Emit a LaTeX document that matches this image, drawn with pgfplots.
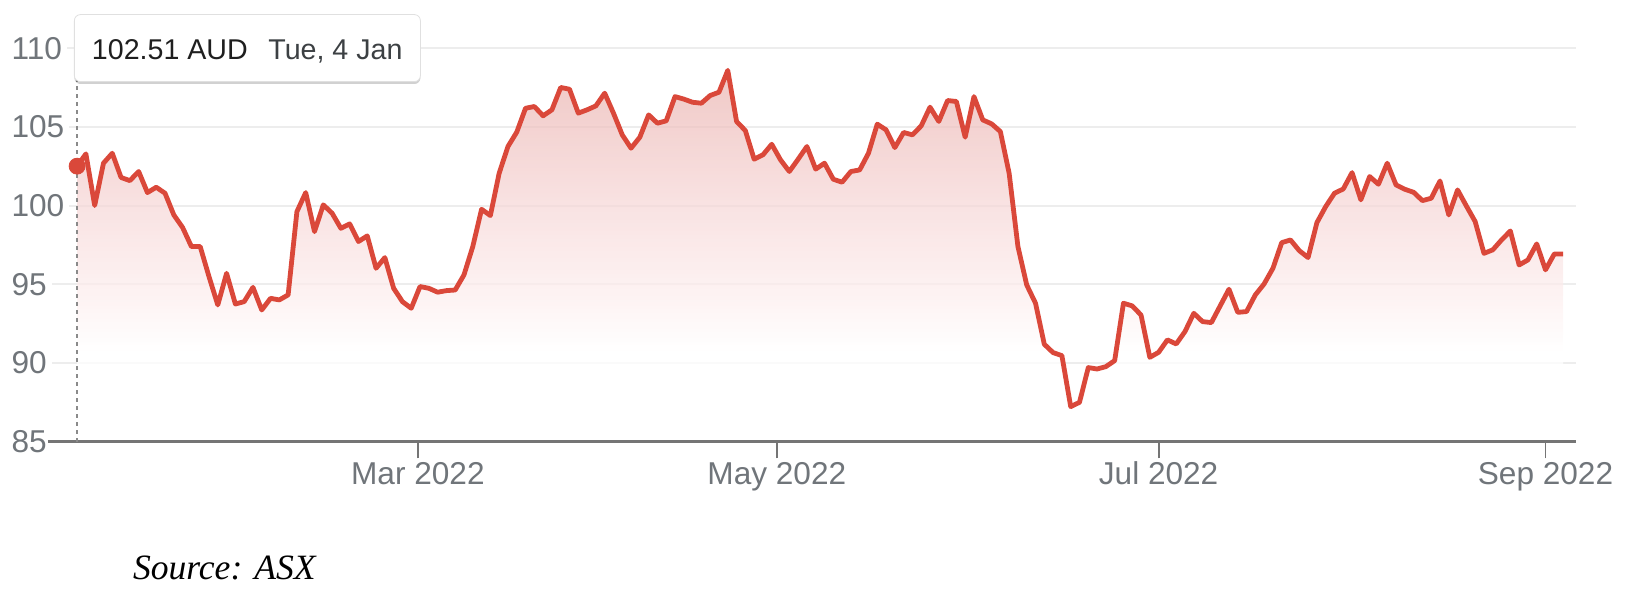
\documentclass[border=0pt]{standalone}
\usepackage{pgfplots}
\pgfplotsset{compat=1.18}
\usepackage{pgfplotstable}
\usepackage{fontspec}
\setmainfont{Liberation Sans}
\newfontfamily\serifit{Liberation Serif}
\usetikzlibrary{shadows}
\definecolor{gred}{RGB}{218,72,58}
\definecolor{tickgray}{RGB}{112,117,122}
\definecolor{axgray}{RGB}{117,117,117}
\definecolor{fA}{RGB}{234,176,174}
\definecolor{fB}{RGB}{236,184,181}
\definecolor{fC}{RGB}{246,214,214}
\definecolor{fD}{RGB}{252,236,236}
\pgfdeclareverticalshading{fade}{100bp}{color(0bp)=(white); color(25bp)=(white); color(37bp)=(white); color(45.3bp)=(fD); color(56.8bp)=(fC); color(71.6bp)=(fB); color(75bp)=(fA); color(100bp)=(fA)}

\pgfplotstableread{
x y
0 102.51
1 103.29
2 100.01
3 102.70
4 103.33
5 101.79
6 101.59
7 102.17
8 100.83
9 101.17
10 100.79
11 99.41
12 98.61
13 97.40
14 97.40
15 95.49
16 93.69
17 95.70
18 93.75
19 93.90
20 94.81
21 93.37
22 94.11
23 94.01
24 94.33
25 99.62
26 100.83
27 98.35
28 100.05
29 99.52
30 98.56
31 98.84
32 97.72
33 98.08
34 96.02
35 96.70
36 94.75
37 93.90
38 93.48
39 94.86
40 94.75
41 94.50
42 94.60
43 94.64
44 95.60
45 97.40
46 99.77
47 99.37
48 102.06
49 103.76
50 104.67
51 106.19
52 106.30
53 105.71
54 106.09
55 107.51
56 107.40
57 105.88
58 106.09
59 106.34
60 107.15
61 105.88
62 104.50
63 103.65
64 104.35
65 105.77
66 105.24
67 105.39
68 106.93
69 106.77
70 106.57
71 106.51
72 107.00
73 107.21
74 108.60
75 105.35
76 104.77
77 102.95
78 103.23
79 103.90
80 102.91
81 102.17
82 102.95
83 103.76
84 102.32
85 102.70
86 101.68
87 101.49
88 102.17
89 102.27
90 103.33
91 105.18
92 104.82
93 103.69
94 104.65
95 104.50
96 105.07
97 106.26
98 105.35
99 106.68
100 106.62
101 104.35
102 106.93
103 105.45
104 105.20
105 104.71
106 102.06
107 97.40
108 94.96
109 93.80
110 91.19
111 90.66
112 90.47
113 87.23
114 87.50
115 89.71
116 89.62
117 89.77
118 90.15
119 93.80
120 93.63
121 93.05
122 90.36
123 90.68
124 91.47
125 91.21
126 92.00
127 93.16
128 92.63
129 92.57
130 93.63
131 94.69
132 93.22
133 93.27
134 94.33
135 95.03
136 96.02
137 97.65
138 97.82
139 97.14
140 96.70
141 98.92
142 99.94
143 100.79
144 101.06
145 102.10
146 100.37
147 101.85
148 101.36
149 102.70
150 101.32
151 101.04
152 100.85
153 100.32
154 100.47
155 101.57
156 99.41
157 101.00
158 99.98
159 98.99
160 96.97
161 97.19
162 97.82
163 98.39
164 96.23
165 96.55
166 97.57
167 95.92
168 96.93
169 96.93
169 85
0 85
}\pricedata

\begin{document}
\begin{tikzpicture}
\begin{axis}[
  at={(0,0)}, anchor=south west, scale only axis,
  width=764pt, height=196.7pt,
  xmin=-3.31, xmax=170.47, ymin=85, ymax=110,
  clip=false,
  axis line style={draw=none},
  ytick={85,90,95,100,105,110},
  xtick={38.76,79.58,123,167},
  xticklabels={Mar 2022,May 2022,Jul 2022,Sep 2022},
  ymajorgrids,
  grid style={draw=black, draw opacity=0.07, line width=0.9pt},
  x tick style={axgray, line width=0.9pt},
  y tick style={draw=none},
  tick align=outside,
  major tick length=8.3pt,
  xtick pos=bottom, ytick pos=left,
  /pgf/number format/assume math mode=true,
  ticklabel style={font=\fontsize{15.8}{19}\selectfont, text=tickgray},
  yticklabel style={anchor=west, xshift=-12.6pt, inner xsep=2.5pt, inner ysep=1pt, fill=white},
  xticklabel style={anchor=base, yshift=-13.35pt},
]
\addplot[draw=none, shade, shading=fade, fill opacity=0.7] table[x=x,y=y]{\pricedata};
\draw[axgray, line width=1.3pt] (rel axis cs:0,0) -- (rel axis cs:1,0);
\draw[axgray!85, dash pattern=on 2pt off 2pt, line width=0.7pt] (axis cs:0,85) -- (axis cs:0,108);
\addplot[gred, line width=2.4pt, line join=round, skip coords between index={170}{172}] table[x=x,y=y]{\pricedata};
\addplot[only marks, mark=*, mark size=4pt, gred] coordinates {(0,102.51)};
\end{axis}
\node[draw=black!12, fill=white, rounded corners=3pt, inner sep=0pt,
      minimum width=173pt, minimum height=33.5pt, anchor=south west,
      drop shadow={shadow xshift=0pt, shadow yshift=-1.2pt, opacity=0.18, fill=black}]
      at (13pt,179.85pt) {};
\node[anchor=base west, inner sep=0pt, font=\fontsize{14.3}{17}\selectfont, text=black!88] at (21.8pt,191.2pt) {102.51 AUD};
\node[anchor=base west, inner sep=0pt, font=\fontsize{14.3}{17}\selectfont, text={rgb,255:red,60;green,64;blue,67}] at (110pt,191.2pt) {Tue, 4 Jan};
\node[anchor=base west, inner sep=0pt, font=\serifit\itshape\fontsize{17.8}{21}\selectfont] at (42.3pt,-69.15pt) {Source: ASX};
\pgfresetboundingbox
\path[use as bounding box] (-24pt,-83.15pt) rectangle (800pt,220.85pt);
\end{tikzpicture}
\end{document}
